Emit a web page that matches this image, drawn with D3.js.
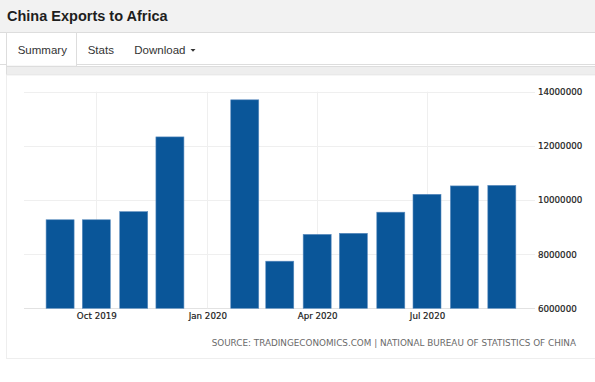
<!DOCTYPE html>
<html>
<head>
<meta charset="utf-8">
<script src="https://cdn.jsdelivr.net/npm/d3@7"></script>
<style>
  html, body { margin: 0; padding: 0; background: #ffffff; }
  svg { display: block; }
</style>
</head>
<body>
<svg id="chart" width="595" height="382"></svg>
<script>
// ---- data ----
const title = "China Exports to Africa";
const tabs = ["Summary", "Stats", "Download"];
const months = ["2019-09", "2019-10", "2019-11", "2019-12", "2020-02", "2020-03",
                "2020-04", "2020-05", "2020-06", "2020-07", "2020-08", "2020-09"];
const values = [9270000, 9270000, 9570000, 12330000, 13700000, 7740000,
                8730000, 8770000, 9550000, 10210000, 10520000, 10540000];
const xTickDates = ["2019-10", "2020-01", "2020-04", "2020-07"];
const xTickLabels = ["Oct 2019", "Jan 2020", "Apr 2020", "Jul 2020"];
const yTicks = [6000000, 8000000, 10000000, 12000000, 14000000];
const sourceText = "SOURCE: TRADINGECONOMICS.COM | NATIONAL BUREAU OF STATISTICS OF CHINA";

const parseMonth = d3.timeParse("%Y-%m");
const svg = d3.select("#chart");

// ---- page chrome ----
svg.append("rect").attr("x", 0).attr("y", 0).attr("width", 595).attr("height", 32).attr("fill", "#f2f2f2");
svg.append("line").attr("x1", 0).attr("x2", 595).attr("y1", 32.5).attr("y2", 32.5).attr("stroke", "#dcdcdc");
svg.append("text").attr("x", 7).attr("y", 21)
  .attr("font-family", "Liberation Sans, Arial, sans-serif").attr("font-weight", "bold")
  .attr("font-size", 14.5).attr("fill", "#1e1e1e").text(title);

// tab row bottom border
svg.append("line").attr("x1", 0).attr("x2", 595).attr("y1", 64.5).attr("y2", 64.5).attr("stroke", "#dddddd");
// active tab
svg.append("rect").attr("x", 6.5).attr("y", 32.5).attr("width", 70).attr("height", 33)
  .attr("fill", "#ffffff").attr("stroke", "#dddddd");
svg.append("line").attr("x1", 7).attr("x2", 76).attr("y1", 65).attr("y2", 65).attr("stroke", "#ffffff").attr("stroke-width", 1.5);

const tabX = [17.7, 87.7, 134.3];
svg.selectAll("text.tab").data(tabs).join("text").attr("class", "tab")
  .attr("x", (d, i) => tabX[i]).attr("y", 53.5)
  .attr("font-family", "Liberation Sans, Arial, sans-serif").attr("font-size", 11.5)
  .attr("fill", "#333333").text(d => d);
svg.append("path").attr("d", "M190.5,49 L195.5,49 L193,51.7 Z").attr("fill", "#333333");

// gray strip and panel
svg.append("rect").attr("x", 6.5).attr("y", 66.5).attr("width", 590).attr("height", 8.5)
  .attr("fill", "#eeeeee").attr("stroke", "#dddddd");
svg.append("rect").attr("x", 6.5).attr("y", 75).attr("width", 590).attr("height", 283.5)
  .attr("fill", "#ffffff").attr("stroke", "#eeeeee");

// ---- scales ----
const x = d3.scaleTime()
  .domain([parseMonth("2019-10"), parseMonth("2020-07")])
  .range([96.3, 427]);
const y = d3.scaleLinear().domain([6000000, 14000000]).range([308.3, 91.7]);
const barW = 28;

// grid
const gridH = svg.append("g");
gridH.selectAll("line").data(yTicks).join("line")
  .attr("x1", 24).attr("x2", 535)
  .attr("y1", d => Math.round(y(d)) + 0.5).attr("y2", d => Math.round(y(d)) + 0.5)
  .attr("stroke", d => d === 6000000 ? "#e2e2e2" : "#efefef");
const gridV = svg.append("g");
gridV.selectAll("line").data(xTickDates).join("line")
  .attr("x1", d => Math.round(x(parseMonth(d))) + 0.5).attr("x2", d => Math.round(x(parseMonth(d))) + 0.5)
  .attr("y1", y(14000000)).attr("y2", y(6000000))
  .attr("stroke", "#efefef");

// bars
const data = months.map((m, i) => ({ date: parseMonth(m), value: values[i] }));
svg.append("g").selectAll("rect").data(data).join("rect")
  .attr("x", d => x(d.date) - barW / 2)
  .attr("width", barW)
  .attr("y", d => y(d.value))
  .attr("height", d => y(6000000) - y(d.value))
  .attr("fill", "#0a5699")
  .attr("stroke", "#5b8cbf").attr("stroke-width", 0.6);

// y axis labels
const yAxis = d3.axisRight(y).tickValues(yTicks).tickSize(0).tickPadding(0).tickFormat(d3.format("d"));
const gy = svg.append("g").attr("transform", "translate(538,0)").call(yAxis);
gy.select(".domain").remove();
gy.selectAll("text").attr("font-family", "DejaVu Sans, sans-serif").attr("font-size", 8.7)
  .attr("fill", "#1a1a1a").attr("stroke", "#1a1a1a").attr("stroke-width", 0.2).attr("dy", "0.33em");

// x axis labels
const xAxis = d3.axisBottom(x).tickValues(xTickDates.map(parseMonth)).tickSize(0).tickPadding(0)
  .tickFormat((d, i) => xTickLabels[i]);
const gx = svg.append("g").attr("transform", "translate(0,313)").call(xAxis);
gx.select(".domain").remove();
gx.selectAll("text").attr("font-family", "DejaVu Sans, sans-serif").attr("font-size", 8.7)
  .attr("fill", "#1a1a1a").attr("stroke", "#1a1a1a").attr("stroke-width", 0.2).attr("dy", "0.71em");

// source
const src = svg.append("text").attr("x", 576).attr("y", 346).attr("text-anchor", "end")
  .attr("font-family", "DejaVu Sans, sans-serif").attr("font-size", 9)
  .attr("fill", "#6a6a6a").text(sourceText);
const w = src.node().getComputedTextLength();
src.attr("font-size", 9 * 365 / w);
</script>
</body>
</html>
